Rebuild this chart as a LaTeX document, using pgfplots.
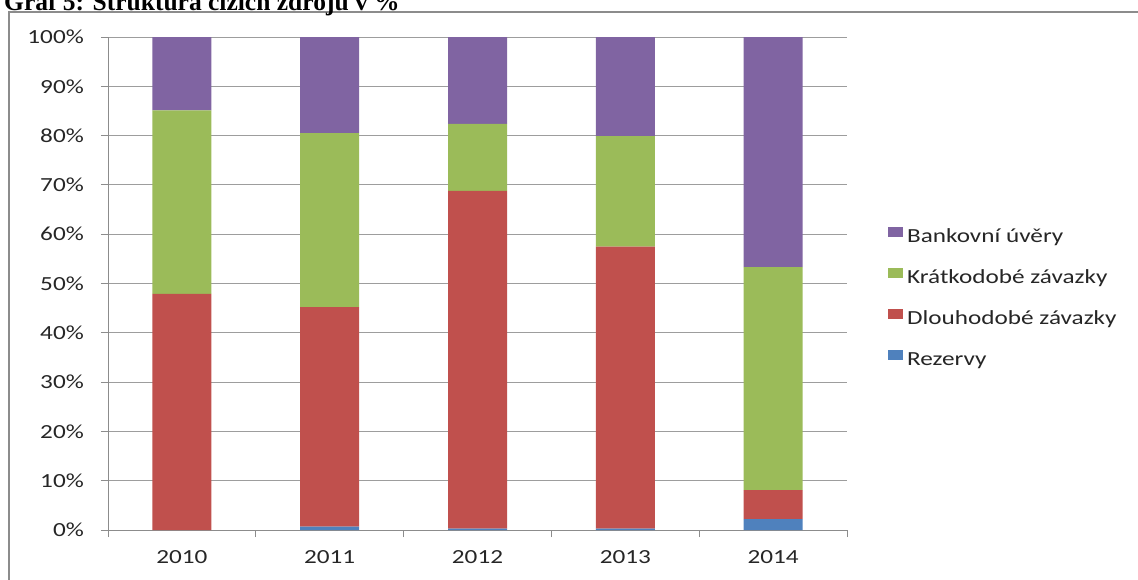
\documentclass[border=0pt]{standalone}
\usepackage{pgfplots}
\pgfplotsset{compat=1.18}
\usepackage{fontspec}
\setmainfont{Carlito}[FakeStretch=1.26]
\newfontfamily\titlefont{Liberation Serif}
\definecolor{cbank}{HTML}{8064A2}
\definecolor{ckrat}{HTML}{9BBB59}
\definecolor{cdlou}{HTML}{C0504D}
\definecolor{crez}{HTML}{4F81BD}
\definecolor{axgray}{HTML}{8C8C8C}
\definecolor{txt}{HTML}{262626}
\begin{document}
\begin{tikzpicture}[x=1pt,y=1pt]
\path[use as bounding box] (0,0) rectangle (1138,-579);
\draw[axgray, line width=2pt] (9,-600) -- (9,-12) -- (1160,-12);
\node[anchor=base west, inner sep=0pt, font=\titlefont\bfseries\fontsize{25.5}{28}\selectfont] at (4,-10) {Graf 5: Struktura cizích zdrojů v \%};
\begin{axis}[
  at={(108pt,-530pt)}, anchor=south west,
  width=739pt, height=493pt, scale only axis,
  xmin=-0.5, xmax=4.5, ymin=0, ymax=100,
  enlarge x limits=false,
  ybar stacked, bar width=59pt,
  axis x line*=bottom, axis y line*=left,
  axis line style={axgray, line width=1pt},
  ytick={0,10,...,100},
  yticklabels={0\%,10\%,20\%,30\%,40\%,50\%,60\%,70\%,80\%,90\%,100\%},
  ymajorgrids, grid style={axgray!85, line width=0.9pt},
  xtick={-0.5,0.5,1.5,2.5,3.5,4.5},
  x tick label as interval,
  xticklabels={2010,2011,2012,2013,2014},
  tick style={axgray, line width=0.9pt},
  tick align=outside, major tick length=7pt,
  font=\fontsize{20}{24}\selectfont,
  ticklabel style={text=txt},
  yticklabel style={inner sep=0pt, xshift=-17pt},
  xticklabel style={inner sep=0pt, yshift=-13pt},
  legend image code/.code={\fill[#1] (0pt,0.3pt) rectangle (15pt,11pt);},
  reverse legend,
  legend cell align=left,
  legend style={at={(1.0514,0.4706)}, anchor=west, draw=none, fill=none,
    font=\fontsize{20}{24}\selectfont, text=txt,
    nodes={inner sep=0pt, text height=13pt, text depth=4pt},
    column sep=4pt, row sep=21.5pt},
]
\addplot[fill=crez, draw=none] coordinates {(0,0) (1,0.7) (2,0.3) (3,0.3) (4,2.2)};
\addplot[fill=cdlou, draw=none] coordinates {(0,47.9) (1,44.5) (2,68.5) (3,57.2) (4,5.9)};
\addplot[fill=ckrat, draw=none] coordinates {(0,37.2) (1,35.3) (2,13.6) (3,22.4) (4,45.2)};
\addplot[fill=cbank, draw=none] coordinates {(0,14.9) (1,19.5) (2,17.6) (3,20.1) (4,46.7)};
\legend{Rezervy, Dlouhodobé závazky, Krátkodobé závazky, Bankovní úvěry}
\end{axis}
\end{tikzpicture}
\end{document}
